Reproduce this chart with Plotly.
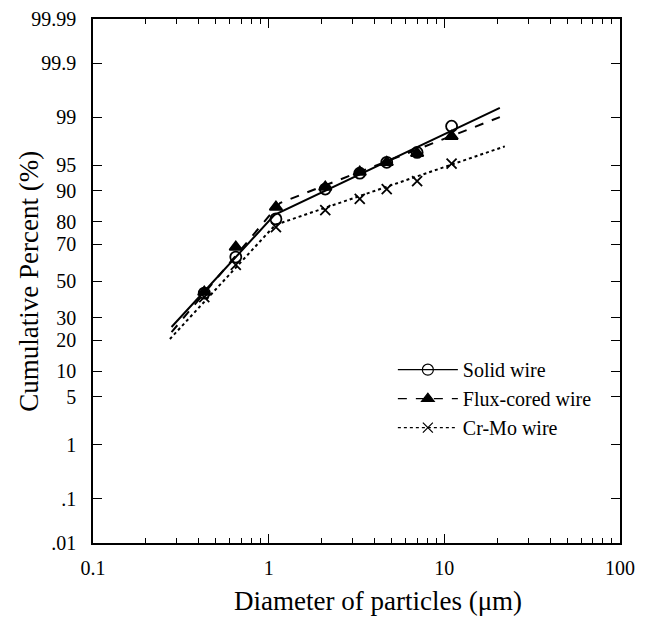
import plotly.graph_objects as go
from statistics import NormalDist

# ---------------- data ----------------
diameters = [0.43, 0.65, 1.1, 2.1, 3.3, 4.7, 7.0, 11.0]
solid_pct = [43.2, 63.3, 81.1, 90.4, 93.7, 95.4, 96.6, 98.6]
flux_pct = [43.8, 68.5, 85.3, 90.9, 93.9, 95.4, 96.5, 98.0]
crmo_pct = [41.0, 59.0, 77.8, 84.3, 87.8, 90.4, 92.2, 95.2]

solid_fit_x = [0.28, 1.08, 20.7]
solid_fit_pct = [25.7, 82.6, 99.3]
flux_fit_x = [0.28, 1.16, 20.7]
flux_fit_pct = [23.4, 86.6, 99.0]
crmo_fit_x = [0.274, 1.09, 22.1]
crmo_fit_pct = [20.5, 78.7, 97.2]

y_tick_pct = [0.01, 0.1, 1, 5, 10, 20, 30, 50, 70, 80, 90, 95, 99, 99.9, 99.99]
y_tick_text = [".01", ".1", "1", "5", "10", "20", "30", "50", "70", "80", "90", "95", "99", "99.9", "99.99"]
x_tick_vals = [0.1, 1, 10, 100]
x_tick_text = ["0.1", "1", "10", "100"]

series_names = ["Solid wire", "Flux-cored wire", "Cr-Mo wire"]
x_title = "Diameter of particles (μm)"
y_title = "Cumulative Percent (%)"

# ---------------- helpers ----------------
nd = NormalDist()


def probit(p_list):
    return [nd.inv_cdf(p / 100.0) for p in p_list]


FONT = "Liberation Serif, Times New Roman, serif"
BLACK = "#000000"

styles = [
    dict(dash="solid", symbol="circle-open", msize=11),
    dict(dash="dash", symbol="triangle-up", msize=11),
    dict(dash="dot", symbol="x-thin-open", msize=10),
]
fits = [(solid_fit_x, solid_fit_pct), (flux_fit_x, flux_fit_pct), (crmo_fit_x, crmo_fit_pct)]
pts = [solid_pct, flux_pct, crmo_pct]

fig = go.Figure()

for name, st, (fx, fp), pp in zip(series_names, styles, fits, pts):
    fig.add_trace(go.Scatter(
        x=fx, y=probit(fp), mode="lines",
        line=dict(color=BLACK, width=2, dash=st["dash"]),
        showlegend=False, hoverinfo="skip"))
    fig.add_trace(go.Scatter(
        x=diameters, y=probit(pp), mode="markers",
        marker=dict(symbol=st["symbol"], size=st["msize"], color=BLACK,
                    line=dict(color=BLACK, width=1.8)),
        showlegend=False, name=name))
    # legend entry
    fig.add_trace(go.Scatter(
        x=[None], y=[None], mode="lines+markers", name=name,
        line=dict(color=BLACK, width=1.3, dash=st["dash"]),
        marker=dict(symbol=st["symbol"], size=st["msize"], color=BLACK,
                    line=dict(color=BLACK, width=1.2))))

minor_x = []
for dec in [0.1, 1, 10]:
    for k in range(2, 10):
        minor_x.append(round(dec * k, 6))

zmax = nd.inv_cdf(0.9999)

fig.update_layout(
    template="none",
    width=650, height=619,
    paper_bgcolor="white", plot_bgcolor="white",
    margin=dict(l=93, r=30, t=19, b=76),
    font=dict(family=FONT, size=20, color=BLACK),
    showlegend=True,
    legend=dict(x=0.569, y=0.368, xanchor="left", yanchor="top",
                bgcolor="rgba(0,0,0,0)", borderwidth=0,
                font=dict(family=FONT, size=20, color=BLACK),
                tracegroupgap=0, itemwidth=60),
    annotations=[
        dict(text=x_title, xref="paper", yref="paper", x=0.54, y=-0.11,
             xanchor="center", yanchor="middle", showarrow=False,
             font=dict(family=FONT, size=27, color=BLACK)),
        dict(text=y_title, xref="paper", yref="paper", x=-0.122, y=0.5,
             xanchor="center", yanchor="middle", showarrow=False, textangle=-90,
             font=dict(family=FONT, size=27, color=BLACK)),
    ],
)

fig.update_xaxes(
    type="log", range=[-1, 2], automargin=False,
    tickvals=x_tick_vals, ticktext=x_tick_text,
    ticks="inside", ticklen=9, tickwidth=1.3, tickcolor=BLACK,
    minor=dict(tickvals=minor_x, ticks="inside", ticklen=5, tickwidth=1.1, tickcolor=BLACK, showgrid=False),
    showline=True, linecolor=BLACK, linewidth=1.5, mirror="allticks",
    showgrid=False, zeroline=False,
    ticklabelstandoff=6,
    tickfont=dict(family=FONT, size=20, color=BLACK),
)

fig.update_yaxes(
    range=[-zmax, zmax], automargin=False,
    tickvals=probit(y_tick_pct), ticktext=y_tick_text,
    ticks="inside", ticklen=9, tickwidth=1.3, tickcolor=BLACK,
    showline=True, linecolor=BLACK, linewidth=1.5, mirror="allticks",
    showgrid=False, zeroline=False,
    ticklabelstandoff=11,
    tickfont=dict(family=FONT, size=20, color=BLACK),
)

fig.write_html("out.html", config={"displayModeBar": False},
               post_script="document.body.style.margin='0';document.body.style.padding='0';")
